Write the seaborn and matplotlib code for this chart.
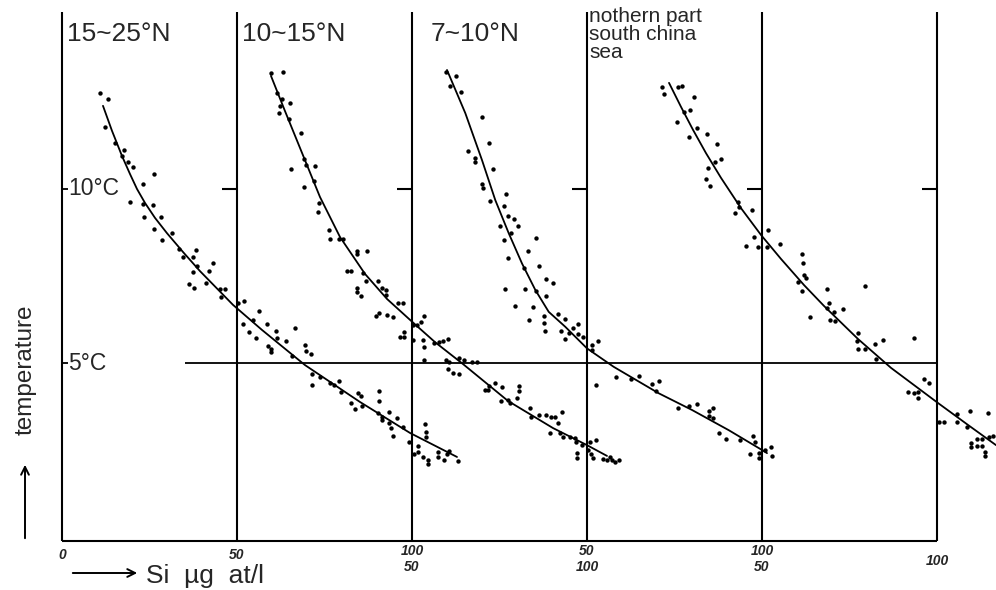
import numpy as np
import pandas as pd
import matplotlib
matplotlib.use("Agg")
import matplotlib.pyplot as plt
import seaborn as sns

# ---------------- data (Si in µg at/l, temperature in °C) ----------------
panel_names = ["15~25°N", "10~15°N", "7~10°N", "nothern part\nsouth china\nsea"]
panel_offsets = [0, 50, 100, 150]   # horizontal shift of each panel's Si scale

si_1 = [10.86, 13.06, 12.29, 15.14, 17.80, 17.06, 18.77, 20.20, 26.29, 23.14, 19.43, 23.23, 26.09, 23.43,
        28.29, 26.37, 31.34, 28.49, 33.51, 38.29, 34.66, 37.51, 38.49, 37.51, 43.23, 42.09, 41.14, 36.37,
        37.71, 45.14, 46.57, 45.34, 50.37, 52.09, 56.29, 51.63, 54.49, 53.43, 55.43, 58.49, 61.14, 61.51,
        58.94, 59.63, 59.63, 64.00, 66.57, 65.63, 69.43, 69.63, 71.14, 71.51, 71.43, 73.71, 76.57, 77.71,
        79.23, 79.71, 84.49, 85.34, 82.57, 83.71, 85.63, 90.57, 90.66, 90.20, 91.34, 91.51, 93.51, 95.63,
        93.51, 93.91, 94.66, 97.34, 99.23, 101.80, 101.63, 100.66, 103.71, 103.91, 103.91, 103.23, 104.66,
        104.66, 107.34, 107.34, 109.23, 110.66, 109.91, 113.23]
t_1 = [12.76, 12.58, 11.77, 11.33, 11.12, 10.96, 10.78, 10.64, 10.42, 10.14, 9.64, 9.56, 9.54, 9.20,
       9.20, 8.86, 8.74, 8.53, 8.28, 8.26, 8.05, 8.05, 7.79, 7.62, 7.88, 7.65, 7.31, 7.27,
       7.15, 7.12, 7.13, 6.91, 6.72, 6.79, 6.50, 6.12, 6.24, 5.90, 5.71, 6.11, 5.92, 5.73,
       5.50, 5.40, 5.31, 5.63, 6.00, 5.20, 5.52, 5.35, 5.25, 4.68, 4.36, 4.61, 4.43, 4.36,
       4.48, 4.18, 4.15, 4.05, 3.86, 3.67, 3.76, 4.20, 3.92, 3.55, 3.46, 3.36, 3.58, 3.41,
       3.27, 3.12, 2.91, 3.17, 2.72, 2.62, 2.45, 2.39, 3.25, 3.03, 2.87, 2.29, 2.21,
       2.10, 2.45, 2.29, 2.21, 2.48, 2.38, 2.19]
curve_si_1 = [11.71, 14.29, 17.14, 19.43, 21.43, 23.71, 26.57, 30.00, 34.57, 39.43, 48.86, 57.14,
              69.43, 85.14, 99.43, 112.86]
curve_t_1 = [12.39, 11.67, 10.95, 10.43, 10.00, 9.60, 9.17, 8.73, 8.19, 7.64, 6.67, 5.95,
             4.94, 3.88, 2.99, 2.30]

si_2 = [9.63, 13.06, 11.51, 12.77, 12.29, 12.09, 15.14, 14.94, 18.29, 19.23, 19.63, 22.29, 15.43, 19.23,
        22.00, 23.43, 23.23, 26.37, 26.57, 29.14, 30.20, 34.37, 34.20, 37.06, 31.51, 32.57, 35.91, 36.86,
        34.20, 34.20, 35.43, 40.20, 41.34, 42.49, 42.49, 39.71, 40.57, 42.77, 44.57, 46.09, 47.34, 47.71,
        46.57, 47.71, 50.37, 51.34, 52.49, 53.51, 50.37, 53.23, 53.51, 53.51, 56.37, 57.80, 58.94, 60.37,
        59.71, 60.66, 63.51, 64.86, 67.06, 68.49, 60.37, 61.63, 63.43, 70.86, 71.80, 72.09, 73.71, 75.63,
        75.43, 77.34, 78.00, 79.91, 80.66, 80.66, 83.71, 83.91, 86.37, 88.29, 89.63, 90.86, 92.77, 91.80,
        89.43, 92.29, 93.06, 95.14, 96.57, 96.86, 98.49, 97.06, 97.23, 100.86, 102.57, 100.37, 101.06,
        101.80, 104.66, 105.63, 106.57, 107.06, 108.00, 109.23]
t_2 = [13.32, 13.37, 12.75, 12.58, 12.39, 12.18, 12.46, 12.01, 11.62, 10.86, 10.69, 10.66, 10.57, 10.07,
       10.23, 9.61, 9.33, 8.82, 8.55, 8.56, 8.56, 8.22, 8.12, 8.22, 7.64, 7.64, 7.58, 7.37,
       7.16, 7.03, 6.93, 7.36, 7.15, 7.10, 6.95, 6.35, 6.43, 6.37, 6.32, 6.72, 6.72, 5.90,
       5.76, 5.76, 6.09, 6.09, 6.19, 6.35, 5.66, 5.66, 5.47, 5.09, 5.58, 5.61, 5.63, 5.68,
       5.09, 5.04, 5.15, 5.09, 5.02, 5.04, 4.83, 4.72, 4.68, 4.22, 4.22, 4.34, 4.42, 4.30,
       3.91, 3.94, 3.84, 3.99, 4.34, 4.20, 3.70, 3.44, 3.51, 3.51, 3.46, 3.44, 3.60, 3.27,
       2.98, 2.98, 2.88, 2.88, 2.84, 2.72, 2.64, 2.41, 2.28, 2.74, 2.79, 2.50, 2.39,
       2.26, 2.23, 2.21, 2.31, 2.21, 2.16, 2.21]
curve_si_2 = [9.71, 13.71, 18.00, 23.71, 29.43, 36.57, 42.86, 49.43, 56.57, 64.57, 77.43, 90.29, 100.00, 105.71]
curve_t_2 = [13.25, 12.24, 11.18, 9.77, 8.62, 7.56, 6.84, 6.24, 5.60, 4.97, 3.91, 3.13, 2.64, 2.33]

si_3 = [9.71, 12.66, 10.77, 14.09, 20.00, 22.09, 16.00, 17.91, 17.91, 23.14, 20.00, 20.20, 22.20, 26.94,
        26.20, 27.43, 29.06, 30.29, 25.23, 28.37, 26.37, 35.51, 33.14, 27.43, 36.20, 32.09, 38.29, 40.20,
        26.49, 32.20, 38.29, 35.51, 29.34, 34.57, 41.71, 43.63, 33.51, 37.63, 37.63, 37.91, 42.66, 43.63,
        45.91, 47.43, 44.77, 47.43, 48.86, 51.43, 53.14, 51.43, 52.66, 58.29, 62.66, 64.77, 68.57, 70.49,
        69.71, 76.00, 79.06, 81.43, 84.77, 85.91, 84.77, 85.91, 87.80, 89.71, 93.80, 97.34, 97.91, 96.66,
        99.06, 99.06, 100.77, 102.66, 102.86]
t_3 = [13.37, 13.25, 12.96, 12.78, 12.06, 11.33, 11.10, 10.88, 10.78, 10.57, 10.14, 10.04, 9.66, 9.85,
       9.52, 9.23, 9.13, 8.94, 8.94, 8.73, 8.53, 8.60, 8.22, 8.01, 7.79, 7.72, 7.41, 7.31,
       7.12, 7.13, 6.93, 7.07, 6.65, 6.60, 6.41, 6.26, 6.24, 6.35, 6.14, 5.93, 5.93, 5.68,
       6.01, 6.12, 5.87, 5.83, 5.76, 5.52, 5.63, 5.37, 4.37, 4.61, 4.53, 4.64, 4.39, 4.48,
       4.20, 3.70, 3.76, 3.82, 3.62, 3.70, 3.48, 3.41, 2.98, 2.81, 2.79, 2.90, 2.74, 2.39,
       2.41, 2.26, 2.50, 2.60, 2.33]
curve_si_3 = [10.00, 15.23, 20.00, 23.80, 27.63, 31.43, 35.23, 39.06, 43.80, 50.00, 57.63, 70.49, 80.00, 90.49, 100.00, 101.43]
curve_t_3 = [13.42, 12.18, 10.83, 9.68, 8.73, 7.86, 7.10, 6.47, 6.04, 5.42, 4.89, 4.13, 3.65, 3.07, 2.50, 2.41]

si_4 = [21.34, 22.09, 27.06, 25.91, 27.80, 29.43, 30.49, 25.63, 31.34, 34.29, 29.06, 37.14, 38.29, 36.57,
        34.49, 34.09, 35.14, 43.06, 43.51, 42.29, 47.14, 47.63, 45.43, 48.77, 51.43, 51.80, 55.23, 61.43,
        61.63, 62.09, 62.57, 60.37, 61.34, 68.49, 69.23, 68.57, 70.49, 73.06, 63.71, 69.51, 70.86, 79.43,
        77.34, 77.14, 77.34, 79.43, 84.49, 82.37, 82.57, 93.51, 91.63, 93.34, 94.49, 94.49, 96.37, 97.63,
        100.66, 102.09, 105.71, 105.71, 108.57, 109.51, 114.66, 109.71, 109.71, 111.43, 111.43, 112.77,
        112.77, 113.71, 113.71, 114.94, 115.91]
t_4 = [12.94, 12.72, 12.96, 12.92, 12.22, 12.27, 12.64, 11.93, 11.76, 11.58, 11.50, 11.28, 10.85, 10.78,
       10.59, 10.28, 10.09, 9.64, 9.49, 9.30, 9.40, 8.63, 8.36, 8.34, 8.34, 8.82, 8.42, 8.12,
       7.88, 7.53, 7.43, 7.34, 7.08, 7.12, 6.73, 6.57, 6.47, 6.55, 6.33, 6.24, 6.21, 7.21,
       5.87, 5.64, 5.40, 5.39, 5.66, 5.55, 5.11, 5.71, 4.18, 4.13, 4.16, 4.00, 4.54, 4.42,
       3.31, 3.31, 3.31, 3.53, 3.17, 3.62, 3.57, 2.69, 2.60, 2.81, 2.62, 2.81,
       2.62, 2.45, 2.34, 2.88, 2.90]
curve_si_4 = [23.43, 26.86, 30.29, 34.00, 38.29, 44.00, 49.71, 55.43, 62.00, 67.71, 77.43, 86.86, 100.29, 108.86, 116.86]
curve_t_4 = [13.05, 12.36, 11.70, 11.03, 10.32, 9.45, 8.68, 7.99, 7.24, 6.64, 5.69, 4.86, 3.85, 3.22, 2.64]

x_tick_rows = [["0"], ["50"], ["100", "50"], ["50", "100"], ["100", "50"], ["100"]]
x_tick_pos = [0, 50, 100, 150, 200, 250]
temp_ticks = [10, 5]

# ---------------- build tables ----------------
pts, curves = [], []
sis = [si_1, si_2, si_3, si_4]
ts = [t_1, t_2, t_3, t_4]
csis = [curve_si_1, curve_si_2, curve_si_3, curve_si_4]
cts = [curve_t_1, curve_t_2, curve_t_3, curve_t_4]
for name, off, s, t, cs, ct in zip(panel_names, panel_offsets, sis, ts, csis, cts):
    pts.append(pd.DataFrame({"x": np.array(s) + off, "T": t, "panel": name}))
    curves.append(pd.DataFrame({"x": np.array(cs) + off, "T": ct, "panel": name}))
pts = pd.concat(pts, ignore_index=True)
curves = pd.concat(curves, ignore_index=True)

# ---------------- figure ----------------
sns.set_style("white")
plt.rcParams["font.family"] = ["Liberation Sans", "DejaVu Sans"]

W, H = 996, 590
fig = plt.figure(figsize=(W / 100, H / 100), dpi=100)
ax = fig.add_axes([0, 0, 1, 1])
px_per_unit = 3.5
px_per_deg = 34.8
x0_px, y5_px = 62, 363
XLIM = (-x0_px / px_per_unit, (W - x0_px) / px_per_unit)
YLIM = (5 - (H - y5_px) / px_per_deg, 5 + y5_px / px_per_deg)

def fx(x):
    return x / W

def fy(y):
    return 1 - y / H

bottom_T = 5 - (541 - y5_px) / px_per_deg
top_T = 5 + (y5_px - 12) / px_per_deg

# frame lines
ax.vlines(x_tick_pos, bottom_T, top_T, color="black", lw=1.5)
ax.hlines(bottom_T, 0, 250, color="black", lw=1.5)
ax.hlines(5, 35.14, 250, color="black", lw=1.3)
for u in x_tick_pos[1:]:
    ax.hlines(10, u - 4.3, u, color="black", lw=1.5)
for tt in temp_ticks:
    ax.hlines(tt, 0, 1.6, color="black", lw=1.3)

# data
for name in panel_names:
    c = curves[curves["panel"] == name]
    sns.lineplot(data=c, x="x", y="T", sort=False, estimator=None, color="black",
                 lw=1.3, ax=ax, legend=False)
sns.scatterplot(data=pts, x="x", y="T", color="black", s=10, linewidth=0, ax=ax, legend=False)
ax.set_xlim(*XLIM)
ax.set_ylim(*YLIM)
ax.axis("off")

# temperature labels
fig.text(fx(68), fy(189), "10°C", ha="left", va="center", fontsize=16.5)
fig.text(fx(68), fy(363), "5°C", ha="left", va="center", fontsize=16.5)

# panel titles
fig.text(fx(67), fy(34), panel_names[0], ha="left", va="center", fontsize=19)
fig.text(fx(242), fy(34), panel_names[1], ha="left", va="center", fontsize=19)
fig.text(fx(431), fy(34), panel_names[2], ha="left", va="center", fontsize=19)
fig.text(fx(589), fy(7), panel_names[3], ha="left", va="top", fontsize=15, linespacing=0.92)

# axis titles
fig.text(fx(26), fy(370), "temperature", rotation=90, ha="center", va="center", fontsize=17.5)
ax.annotate("", xy=(fx(25), fy(462)), xytext=(fx(25), fy(541)), xycoords="figure fraction",
            arrowprops=dict(arrowstyle="->", lw=1.4, color="black", mutation_scale=14))
ax.annotate("", xy=(fx(140), fy(573)), xytext=(fx(70), fy(573)), xycoords="figure fraction",
            arrowprops=dict(arrowstyle="->", lw=1.4, color="black", mutation_scale=14))
fig.text(fx(146), fy(576), "Si  µg  at/l", ha="left", va="center", fontsize=19)

# x tick labels
for u, rows in zip(x_tick_pos, x_tick_rows):
    xp = x0_px + u * px_per_unit
    if len(rows) == 1:
        yy = [555] if u in (0, 50) else [561]
    else:
        yy = [551, 567]
    for lab, yp in zip(rows, yy):
        fig.text(fx(xp), fy(yp), lab, ha="center", va="center", fontsize=10,
                 style="italic", fontweight="bold")

fig.savefig("out.png", dpi=100, facecolor="white")
